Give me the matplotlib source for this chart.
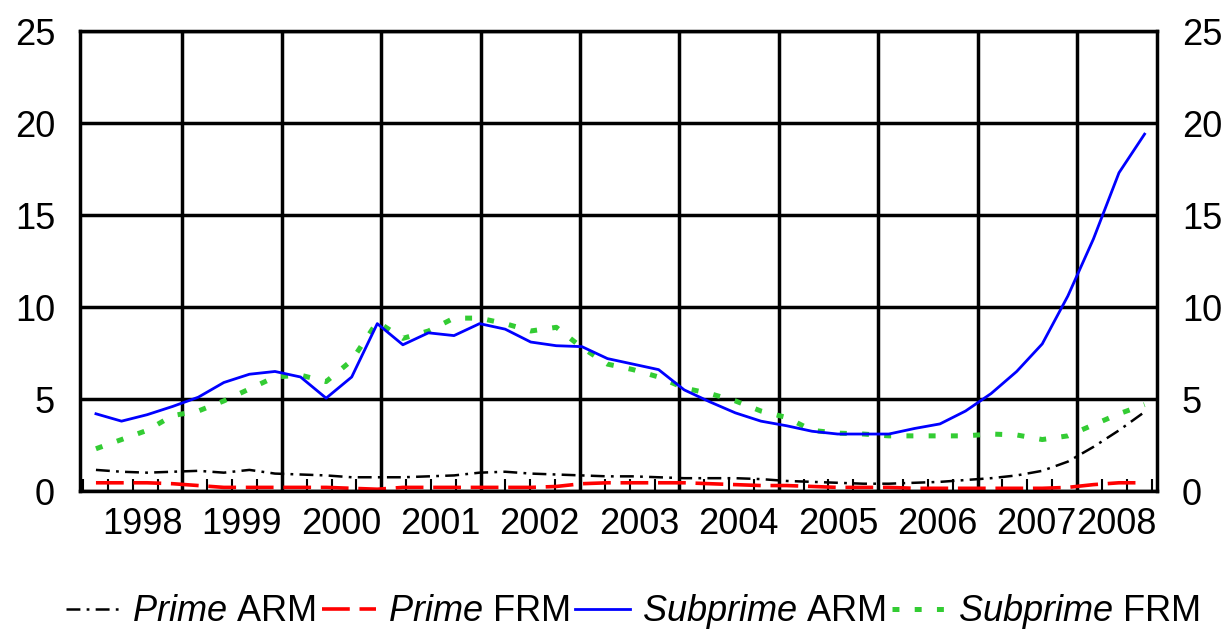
import numpy as np
import matplotlib.pyplot as plt

plt.rcParams['font.family'] = ['Liberation Sans', 'DejaVu Sans']
plt.rcParams['mathtext.fontset'] = 'custom'
plt.rcParams['mathtext.it'] = 'Liberation Sans:italic'
plt.rcParams['mathtext.rm'] = 'Liberation Sans'
plt.rcParams['lines.scale_dashes'] = False

# 年份标签
years = list(range(1998, 2009))

# 季度数据 (从图上读出来的大概值)
prime_arm = [1.15, 1.05, 1.0, 1.05, 1.1, 1.0, 1.15, 0.95, 0.9, 0.85,
             0.75, 0.75, 0.75, 0.8, 0.85, 1.0, 1.05, 0.95, 0.9, 0.85,
             0.8, 0.8, 0.75, 0.7, 0.7, 0.7, 0.65, 0.55, 0.5, 0.45,
             0.4, 0.4, 0.45, 0.5, 0.6, 0.7, 0.85, 1.1, 1.6, 2.4,
             3.3, 4.3]
prime_frm = [0.45, 0.45, 0.45, 0.4, 0.3, 0.2, 0.2, 0.2, 0.2, 0.2,
             0.15, 0.1, 0.2, 0.2, 0.2, 0.2, 0.2, 0.2, 0.25, 0.4,
             0.45, 0.45, 0.45, 0.45, 0.4, 0.35, 0.3, 0.3, 0.25, 0.2,
             0.2, 0.2, 0.15, 0.15, 0.15, 0.15, 0.15, 0.15, 0.2, 0.35,
             0.45, 0.45]
subprime_arm = [4.2, 3.8, 4.15, 4.6, 5.1, 5.9, 6.35, 6.5, 6.2, 5.05,
                6.2, 9.1, 7.95, 8.6, 8.45, 9.1, 8.8, 8.1, 7.9, 7.85,
                7.2, 6.9, 6.6, 5.5, 4.85, 4.25, 3.8, 3.55, 3.25, 3.1,
                3.1, 3.1, 3.4, 3.65, 4.35, 5.3, 6.5, 8.0, 10.6, 13.7,
                17.3, 19.4]
subprime_frm = [2.3, 2.8, 3.3, 4.1, 4.35, 4.9, 5.55, 6.2, 6.3, 5.95,
                7.1, 9.2, 8.3, 8.7, 9.4, 9.4, 9.1, 8.7, 8.9, 7.8,
                6.9, 6.6, 6.2, 5.6, 5.3, 4.9, 4.35, 4.0, 3.3, 3.15,
                3.1, 3.0, 3.0, 3.0, 3.0, 3.1, 3.05, 2.8, 3.0, 3.6,
                4.2, 4.7]

t = np.linspace(1998.13, 2008.68, len(subprime_arm))
x_left, x_right = 1997.97, 2008.805

fig = plt.figure(figsize=(12.22, 6.32), dpi=100)
ax = fig.add_axes([0.0655, 0.223, 0.8813, 0.7278])

l1, = ax.plot(t, prime_arm, color='black', lw=1.8, dashes=(10, 4.5, 2, 4.5), zorder=3)
l2, = ax.plot(t, prime_frm, color='#ff0000', lw=2.6, dashes=(20, 7), zorder=3)
l3, = ax.plot(t, subprime_arm, color='#0000ff', lw=2.0, zorder=4)
l4, = ax.plot(t, subprime_frm, color='#33cc33', lw=3.6, dashes=(5, 11),
              dash_capstyle='butt', zorder=3)

ax.set_xlim(x_left, x_right)
ax.set_ylim(0, 25)
ax.set_yticks([0, 5, 10, 15, 20, 25])
ax.tick_params(axis='y', length=0, pad=18, labelsize=26, labelright=True)

ax.set_xticks(years[1:])
ax.set_xticklabels([])
ax.set_xticks(np.arange(1998, 2008.8, 0.25), minor=True)
ax.tick_params(axis='x', which='major', length=0)
ax.tick_params(axis='x', which='minor', direction='in', length=9, width=1.5, color='black')

ax.grid(True, which='major', color='black', lw=2.5, zorder=1)
ax.set_axisbelow(True)
for s in ax.spines.values():
    s.set_linewidth(2.5)
    s.set_zorder(5)

# 年份标签放在每一年右边的网格线旁边
for y in years:
    ax.text(min(y + 1, x_right), -0.035, str(y), transform=ax.get_xaxis_transform(),
            ha='right', va='top', fontsize=26)

labels = [r'$\mathit{Prime}$ ARM', r'$\mathit{Prime}$ FRM',
          r'$\mathit{Subprime}$ ARM', r'$\mathit{Subprime}$ FRM']
fig.legend([l1, l2, l3, l4], labels, loc='center', bbox_to_anchor=(0.518, 0.032),
           ncol=4, frameon=False, fontsize=26, handlelength=1.5,
           handletextpad=0.35, columnspacing=0.15)

fig.savefig('out.png', dpi=100)
